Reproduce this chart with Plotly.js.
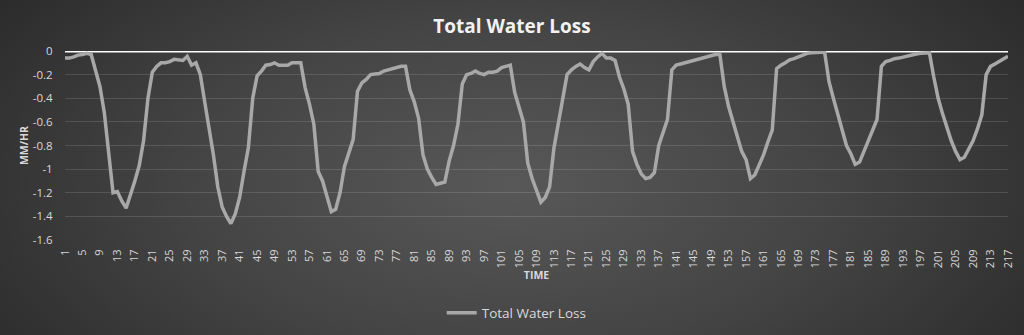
<!DOCTYPE html>
<html>
<head>
<meta charset="utf-8">
<script src="https://cdn.plot.ly/plotly-3.0.1.min.js"></script>
<style>
  html, body { margin: 0; padding: 0; }
  body { width: 1024px; height: 335px; overflow: hidden;
    background: radial-gradient(ellipse 70% 110% at 50% 55%, #585858 0%, #444 45%, #242424 100%); }
  #chart { width: 1024px; height: 335px; }
</style>
</head>
<body>
<div id="chart"></div>
<script>
var seriesName = "Total Water Loss";
var totalWaterLoss = [
  -0.06, -0.06, -0.05, -0.035, -0.03, -0.02, -0.03, -0.18, -0.3, -0.52,
  -0.85, -1.2, -1.19, -1.27, -1.33, -1.22, -1.1, -0.97, -0.76, -0.4,
  -0.18, -0.13, -0.1, -0.1, -0.09, -0.07, -0.075, -0.08, -0.045, -0.12,
  -0.1, -0.2, -0.43, -0.65, -0.88, -1.15, -1.32, -1.4, -1.46, -1.38,
  -1.24, -1.02, -0.82, -0.4, -0.21, -0.17, -0.12, -0.115, -0.1, -0.12,
  -0.12, -0.12, -0.1, -0.1, -0.1, -0.31, -0.45, -0.62, -1.02, -1.1,
  -1.22, -1.36, -1.34, -1.2, -0.98, -0.86, -0.75, -0.34, -0.27, -0.24,
  -0.2, -0.195, -0.19, -0.17, -0.16, -0.15, -0.14, -0.13, -0.13, -0.33,
  -0.43, -0.57, -0.88, -1.0, -1.07, -1.13, -1.12, -1.11, -0.93, -0.8,
  -0.62, -0.28, -0.2, -0.19, -0.17, -0.19, -0.2, -0.18, -0.18, -0.17,
  -0.14, -0.13, -0.12, -0.35, -0.48, -0.6, -0.95, -1.08, -1.18, -1.28,
  -1.24, -1.15, -0.82, -0.62, -0.42, -0.2, -0.16, -0.13, -0.11, -0.14,
  -0.16, -0.09, -0.05, -0.02, -0.06, -0.06, -0.08, -0.22, -0.32, -0.45,
  -0.85, -0.96, -1.04, -1.08, -1.07, -1.03, -0.8, -0.7, -0.58, -0.16,
  -0.12, -0.11, -0.1, -0.09, -0.08, -0.07, -0.06, -0.05, -0.035, -0.03,
  -0.03, -0.3, -0.47, -0.6, -0.73, -0.85, -0.92, -1.08, -1.05, -0.97,
  -0.88, -0.77, -0.67, -0.15, -0.12, -0.1, -0.075, -0.065, -0.05, -0.035,
  -0.02, -0.015, -0.01, -0.01, -0.01, -0.26, -0.4, -0.53, -0.68, -0.8,
  -0.87, -0.96, -0.94, -0.85, -0.77, -0.68, -0.58, -0.13, -0.09, -0.08,
  -0.065, -0.06, -0.05, -0.04, -0.035, -0.025, -0.02, -0.015, -0.015, -0.22,
  -0.4, -0.53, -0.65, -0.76, -0.85, -0.92, -0.9, -0.83, -0.76, -0.66,
  -0.54, -0.2, -0.13, -0.11, -0.09, -0.07, -0.045
];
var timeSteps = totalWaterLoss.map(function (v, i) { return i + 1; });
var xTickVals = timeSteps.filter(function (t) { return (t - 1) % 4 === 0; });
var xTickText = xTickVals.map(String);
var yTickVals = [0, -0.2, -0.4, -0.6, -0.8, -1, -1.2, -1.4, -1.6];
var yTickText = ["0", "-0.2", "-0.4", "-0.6", "-0.8", "-1", "-1.2", "-1.4", "-1.6"];

var font = "Open Sans, Lato, sans-serif";
var trace = {
  x: timeSteps, y: totalWaterLoss, type: "scatter", mode: "lines",
  name: seriesName,
  line: { color: "#a8a8a8", width: 3.5 },
  hoverinfo: "x+y"
};
var layout = {
  width: 1024, height: 335,
  paper_bgcolor: "rgba(0,0,0,0)", plot_bgcolor: "rgba(0,0,0,0)",
  margin: { l: 65, r: 16, t: 51, b: 95, autoexpand: false },
  title: { text: "<b>Total Water Loss</b>", x: 0.5, xanchor: "center", y: 0.92, yanchor: "middle",
    font: { family: font, size: 19, color: "#f2f2f2" } },
  xaxis: {
    type: "linear", range: [1, 217], tickvals: xTickVals, ticktext: xTickText,
    tickangle: -90, tickfont: { family: font, size: 11, color: "#d9d9d9" },
    showgrid: false, zeroline: false, showline: false,
    ticks: "outside", ticklen: 4, tickcolor: "rgba(0,0,0,0)",
    automargin: false,
    title: { text: "<b>TIME</b>", font: { family: font, size: 10.5, color: "#d9d9d9" }, standoff: 1 },
    fixedrange: true
  },
  yaxis: {
    range: [-1.6, 0], tickvals: yTickVals, ticktext: yTickText,
    tickfont: { family: font, size: 11.5, color: "#d9d9d9" },
    showgrid: true, gridcolor: "rgba(255,255,255,0.13)", gridwidth: 1,
    zeroline: false, showline: false,
    ticks: "outside", ticklen: 9, tickcolor: "rgba(0,0,0,0)",
    automargin: false,
    title: { text: "<b>MM/HR</b>", font: { family: font, size: 10.5, color: "#d9d9d9" }, standoff: 2 },
    fixedrange: true
  },
  shapes: [{ type: "line", xref: "paper", x0: 0, x1: 1, yref: "y", y0: 0, y1: 0,
    line: { color: "#ffffff", width: 3 }, layer: "below" }],
  showlegend: true,
  legend: { orientation: "h", x: 0.479, xanchor: "center", y: -0.386, yanchor: "middle",
    font: { family: font, size: 13.5, color: "#d9d9d9" }, bgcolor: "rgba(0,0,0,0)" }
};
Plotly.newPlot("chart", [trace], layout, { displayModeBar: false, staticPlot: true });
</script>
</body>
</html>
